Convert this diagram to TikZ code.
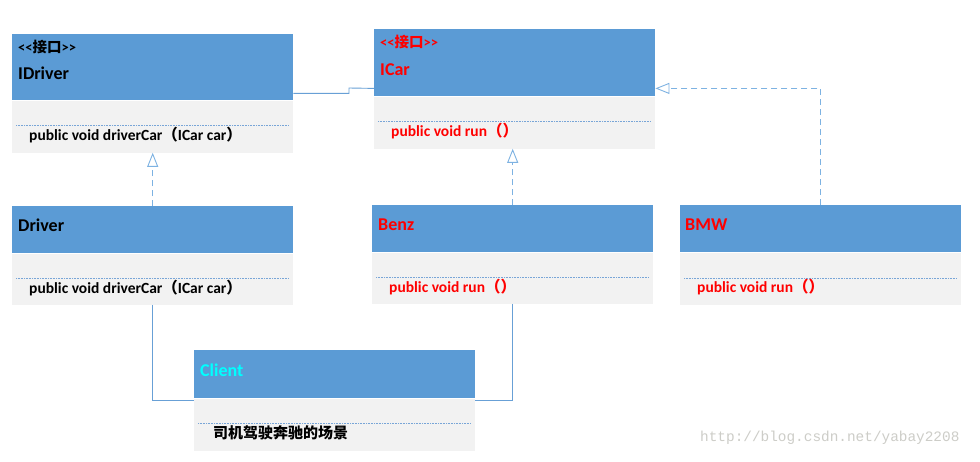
\documentclass[tikz,border=0pt]{standalone}
\usepackage{fontspec}
\setmainfont{Carlito}
\newfontfamily\cjk{Noto Sans CJK SC}
\newfontfamily\wmfont{Liberation Mono}
\usetikzlibrary{arrows.meta}
\usetikzlibrary{positioning}
\definecolor{headblue}{RGB}{91,155,213}
\definecolor{bodygray}{RGB}{242,242,242}
\definecolor{linkblue}{RGB}{104,160,214}
\definecolor{dashblue}{RGB}{125,178,226}
\definecolor{sepblue}{RGB}{120,165,215}
\definecolor{markgray}{RGB}{205,205,200}
\definecolor{umlred}{RGB}{255,0,0}
\definecolor{umlcyan}{RGB}{0,255,255}

\begin{document}
\begin{tikzpicture} [x=1pt, y=-1pt,
          head/.style = {fill=headblue, anchor=north west, minimum width=281pt, inner sep=0pt},
          body/.style = {fill=bodygray, anchor=north west, minimum width=281pt, minimum height=52pt, inner sep=0pt},
          title/.style = {anchor=west, inner sep=0pt, text height=0.7em, text depth=0.2em, font=\fontsize{18}{20}\selectfont\bfseries},
          stereo/.style = {anchor=west, inner sep=0pt, text height=0.7em, text depth=0.2em, font=\fontsize{14.5}{16}\selectfont\bfseries},
          method/.style = {anchor=west, inner sep=0pt, text height=0.7em, text depth=0.2em, font=\fontsize{15.5}{17}\selectfont\bfseries},
          sepline/.style = {sepblue, densely dotted, line width=0.6pt},
          impl/.style = {dashblue, dash pattern=on 6pt off 4pt, line width=0.9pt, -{Triangle[open, length=14pt, width=11pt]}},
          assoc/.style = {linkblue, line width=0.9pt}
          ]
          \useasboundingbox[fill=white] (0,0) rectangle (980,461);

          \node[head, minimum height=66pt] (idriver) at (12,34) {};
          \node[body] (idriverB) at (idriver.south west) {};
          \node[stereo] (idriverS) at (18,50) {<{}<{\cjk 接口}>{}>};
          \node[title] (idriverT) at (18,77) {IDriver};
          \draw[sepline] (16,125) -- (289,125);
          \node[method] (idriverM) at (29,138) {public void driverCar{\cjk （}ICar car{\cjk ）}};

          \node[head, minimum height=67pt] (icar) at (374,29) {};
          \node[body] (icarB) at (icar.south west) {};
          \node[stereo, umlred] (icarS) at (380,45) {<{}<{\cjk 接口}>{}>};
          \node[title, umlred] (icarT) at (380,73) {ICar};
          \draw[sepline] (378,121) -- (651,121);
          \node[method, umlred] (icarM) at (391,134) {public void run{\cjk （）}};

          \node[head, minimum height=47pt] (driver) at (12,206) {};
          \node[body, minimum height=51pt] (driverB) at (driver.south west) {};
          \node[title] (driverT) at (18,229) {Driver};
          \draw[sepline] (16,278) -- (289,278);
          \node[method] (driverM) at (29,291) {public void driverCar{\cjk （}ICar car{\cjk ）}};

          \node[head, minimum height=47pt] (benz) at (372,205) {};
          \node[body, minimum height=51pt] (benzB) at (benz.south west) {};
          \node[title, umlred] (benzT) at (378,228) {Benz};
          \draw[sepline] (376,277) -- (649,277);
          \node[method, umlred] (benzM) at (389,290) {public void run{\cjk （）}};

          \node[head, minimum height=47pt] (bmw) at (680,205) {};
          \node[body] (bmwB) at (bmw.south west) {};
          \node[title, umlred] (bmwT) at (685,228) {BMW};
          \draw[sepline] (684,278) -- (957,278);
          \node[method, umlred] (bmwM) at (697,290) {public void run{\cjk （）}};

          \node[head, minimum height=48pt] (client) at (194,350) {};
          \node[body] (clientB) at (client.south west) {};
          \node[title, umlcyan] (clientT) at (200,374) {Client};
          \draw[sepline] (198,423) -- (471,423);
          \node[method, font=\fontsize{15}{17}\selectfont\cjk\bfseries] (clientM) at (213,436) {司机驾驶奔驰的场景};

          \coordinate (bend) at (349,88);
          \draw[assoc] ([yshift=7pt]idriver.south east) -| (bend) -- ([yshift=8pt]icar.south west);
          \draw[impl] (driver.north) -- (idriverB.south);
          \draw[impl] (benz.north) -- (benz.north |- icarB.south);
          \draw[impl] (bmw.north) |- ([yshift=8pt]icar.south east);
          \draw[assoc] (driverB.south) |- ([yshift=-2pt]client.south west);
          \draw[assoc] (benzB.south) |- ([yshift=-2pt]client.south east);

          \node[anchor=west, inner sep=0pt, markgray, font=\fontsize{14.4}{16}\wmfont] (mark) at (700,438) {http://blog.csdn.net/yabay2208};
        \end{tikzpicture}
\end{document}
